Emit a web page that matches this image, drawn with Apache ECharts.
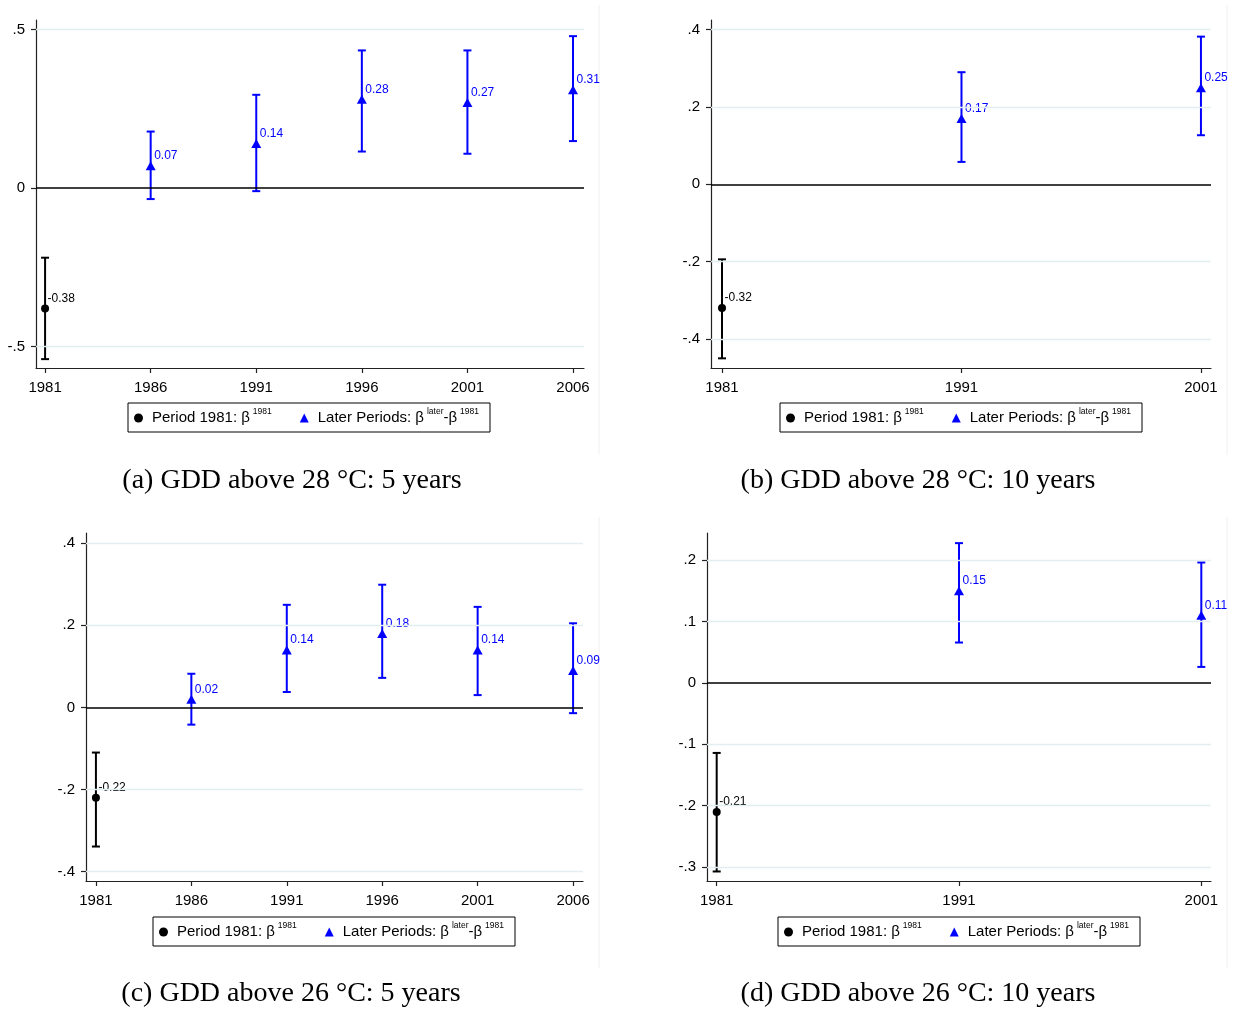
<!DOCTYPE html>
<html><head><meta charset="utf-8">
<script src="https://cdn.jsdelivr.net/npm/echarts@6.0.0/dist/echarts.min.js"></script>
<style>html,body{margin:0;padding:0;background:#fff}#c{width:1237px;height:1012px}</style>
</head><body><div id="c"></div>
<script>
// ---------- DATA ----------
// Panel (a): GDD above 28 °C, 5 years
const yearsA = [1981, 1986, 1991, 1996, 2001, 2006];
const estA   = [-0.38, 0.07, 0.14, 0.28, 0.27, 0.31];
const loA    = [-0.54, -0.035, -0.01, 0.115, 0.108, 0.148];
const hiA    = [-0.22, 0.178, 0.294, 0.434, 0.434, 0.479];
const yTicksA = [-0.5, 0, 0.5];
// Panel (b): GDD above 28 °C, 10 years
const yearsB = [1981, 1991, 2001];
const estB   = [-0.32, 0.17, 0.25];
const loB    = [-0.45, 0.058, 0.127];
const hiB    = [-0.194, 0.29, 0.382];
const yTicksB = [-0.4, -0.2, 0, 0.2, 0.4];
// Panel (c): GDD above 26 °C, 5 years
const yearsC = [1981, 1986, 1991, 1996, 2001, 2006];
const estC   = [-0.22, 0.02, 0.14, 0.18, 0.14, 0.09];
const loC    = [-0.339, -0.042, 0.0375, 0.072, 0.030, -0.014];
const hiC    = [-0.11, 0.082, 0.25, 0.299, 0.245, 0.205];
const yTicksC = [-0.4, -0.2, 0, 0.2, 0.4];
// Panel (d): GDD above 26 °C, 10 years
const yearsD = [1981, 1991, 2001];
const estD   = [-0.21, 0.15, 0.11];
const loD    = [-0.307, 0.0657, 0.026];
const hiD    = [-0.114, 0.2275, 0.196];
const yTicksD = [-0.3, -0.2, -0.1, 0, 0.1, 0.2];

const captions = ['(a) GDD above 28 °C: 5 years', '(b) GDD above 28 °C: 10 years',
                  '(c) GDD above 26 °C: 5 years', '(d) GDD above 26 °C: 10 years'];
const legendNames = {p1981: 'Period 1981: β{sup|1981}', later: 'Later Periods: β{sup|later}-β{sup|1981}'};

// ---------- LAYOUT ----------
const panels = [
  {years: yearsA, est: estA, lo: loA, hi: hiA, yTicks: yTicksA,
   grid: {left: 36, top: 20, width: 548, height: 348}, xr: [1980.57, 2006.52], yr: [-0.568, 0.53],
   legend: {left: 128, top: 403}, cap: [292, 481]},
  {years: yearsB, est: estB, lo: loB, hi: hiB, yTicks: yTicksB,
   grid: {left: 711, top: 20, width: 500, height: 348}, xr: [1980.54, 2001.42], yr: [-0.475, 0.425],
   legend: {left: 780, top: 403}, cap: [918, 481]},
  {years: yearsC, est: estC, lo: loC, hi: hiC, yTicks: yTicksC,
   grid: {left: 86, top: 533, width: 497, height: 348}, xr: [1980.48, 2006.52], yr: [-0.423, 0.425],
   legend: {left: 153, top: 917}, cap: [291, 994]},
  {years: yearsD, est: estD, lo: loD, hi: hiD, yTicks: yTicksD,
   grid: {left: 707, top: 533, width: 504, height: 348}, xr: [1980.6, 2001.4], yr: [-0.3225, 0.244],
   legend: {left: 778, top: 917}, cap: [918, 994]}
];

const BLUE = '#0000ff';
const SANS = 'Liberation Sans, Arial, sans-serif';
const fmtY = v => v === 0 ? '0' : String(+v.toFixed(2)).replace('0.', '.');

const option = {
  animation: false, backgroundColor: '#fff',
  grid: [], xAxis: [], yAxis: [], series: [], legend: [], graphic: []
};

panels.forEach((p, i) => {
  option.grid.push(Object.assign({containLabel: false}, p.grid));
  option.xAxis.push({
    type: 'value', gridIndex: i, min: p.xr[0], max: p.xr[1],
    axisLine: {show: true, onZero: false, lineStyle: {color: '#222', width: 1.2}},
    axisTick: {show: true, length: 5, customValues: p.years, lineStyle: {color: '#222', width: 1.2}},
    axisLabel: {customValues: p.years, margin: 12, fontSize: 15, fontFamily: SANS, color: '#000',
                formatter: v => String(Math.round(v))},
    splitLine: {show: false}
  });
  option.yAxis.push({
    type: 'value', gridIndex: i, min: p.yr[0], max: p.yr[1],
    axisLine: {show: true, onZero: false, lineStyle: {color: '#222', width: 1.2}},
    axisTick: {show: true, length: 5, customValues: p.yTicks, lineStyle: {color: '#222', width: 1.2}},
    axisLabel: {customValues: p.yTicks, margin: 11, fontSize: 15, fontFamily: SANS, color: '#000',
                formatter: fmtY},
    splitLine: {show: false}
  });
  // gridlines + zero line
  const ml = p.yTicks.filter(v => v !== 0).map(v => ({yAxis: v, lineStyle: {color: '#e4eef1', width: 1.3, type: 'solid'}}));
  ml.push({yAxis: 0, lineStyle: {color: '#000', width: 1.5, type: 'solid'}});
  option.series.push({
    type: 'line', name: 'refl' + i, xAxisIndex: i, yAxisIndex: i, data: [], z: 1,
    markLine: {silent: true, symbol: ['none', 'none'], label: {show: false}, animation: false, data: ml}
  });
  // confidence intervals
  option.series.push({
    type: 'custom', name: 'ci' + i, xAxisIndex: i, yAxisIndex: i, z: 3,
    data: p.years.map((y, k) => [y, p.lo[k], p.hi[k]]),
    renderItem: function (params, api) {
      const x = api.value(0);
      const a = api.coord([x, api.value(1)]);
      const b = api.coord([x, api.value(2)]);
      const col = params.dataIndex === 0 ? '#000' : BLUE;
      const st = {stroke: col, lineWidth: 2};
      const hw = 4;
      return {type: 'group', children: [
        {type: 'line', shape: {x1: a[0], y1: a[1], x2: b[0], y2: b[1]}, style: st},
        {type: 'line', shape: {x1: a[0] - hw, y1: a[1], x2: a[0] + hw, y2: a[1]}, style: st},
        {type: 'line', shape: {x1: b[0] - hw, y1: b[1], x2: b[0] + hw, y2: b[1]}, style: st}
      ]};
    }
  });
  const lbl = col => ({show: true, position: 'right', distance: -1.5, offset: [0, -10],
                       fontSize: 12, fontFamily: SANS, color: col,
                       formatter: q => q.value[1].toFixed(2)});
  option.series.push({
    type: 'scatter', name: 'p1981', xAxisIndex: i, yAxisIndex: i, z: 4,
    symbol: 'circle', symbolSize: 8, itemStyle: {color: '#000', opacity: 1},
    data: [[p.years[0], p.est[0]]], label: lbl('#000')
  });
  option.series.push({
    type: 'scatter', name: 'later', xAxisIndex: i, yAxisIndex: i, z: 4,
    symbol: 'triangle', symbolSize: [10, 9], itemStyle: {color: BLUE, opacity: 1},
    data: p.years.slice(1).map((y, k) => [y, p.est[k + 1]]), label: lbl(BLUE)
  });
  option.legend.push({
    left: p.legend.left, top: p.legend.top, orient: 'horizontal',
    data: ['p1981', 'later'], selectedMode: false,
    itemWidth: 9, itemHeight: 9, itemGap: 28,
    padding: [4, 11, 3, 6], borderColor: '#000', borderWidth: 1, backgroundColor: '#fff',
    formatter: n => legendNames[n],
    textStyle: {fontSize: 15, fontFamily: SANS, color: '#000', lineHeight: 22, padding: [0, 0, 0, 4],
                rich: {sup: {fontSize: 8.5, fontFamily: SANS, color: '#000', verticalAlign: 'top',
                             lineHeight: 8, padding: [0, 0, 0, 3]}}}
  });
  option.graphic.push({
    type: 'text', x: p.cap[0], y: p.cap[1], silent: true,
    style: {text: captions[i], align: 'center', verticalAlign: 'middle',
            font: '28px "Liberation Serif", serif', fill: '#000'}
  });
});
// faint sub-figure borders
[[599, 5, 455], [1227, 5, 455], [599, 517, 968], [1227, 517, 968]].forEach(s => {
  option.graphic.push({type: 'line', silent: true, shape: {x1: s[0], y1: s[1], x2: s[0], y2: s[2]},
                       style: {stroke: '#f0f0f0', lineWidth: 1}});
});

const chart = echarts.init(document.getElementById('c'), null, {renderer: 'canvas'});
chart.setOption(option);
</script>
</body></html>
